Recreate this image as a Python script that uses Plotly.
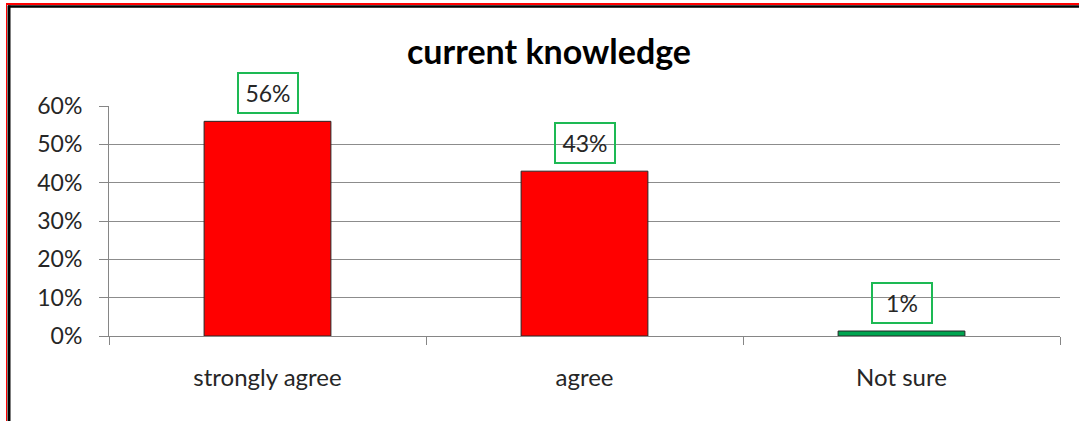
import plotly.graph_objects as go

categories = ["strongly agree", "agree", "Not sure"]
values = [0.56, 0.43, 0.013]
labels = ["56%", "43%", "1%"]
bar_colors = ["#FF0000", "#FF0000", "#00A550"]
title_text = "current knowledge"

W, H = 1079, 421
L, R, T, B = 109, 19, 106, 85
pw, ph = W - L - R, H - T - B

def px_x(px):
    return (px - L) / pw

def px_y(py):
    return (H - B - py) / ph

font_family = "Lato, Open Sans, sans-serif"
txt_color = "#262626"

fig = go.Figure()
fig.add_trace(go.Bar(
    x=categories, y=values, width=0.4,
    marker=dict(color=bar_colors, line=dict(color="#262626", width=1)),
    hoverinfo="skip",
))

for c, v, t in zip(categories, values, labels):
    fig.add_annotation(
        x=c, y=v, text=t, showarrow=False, yanchor="bottom", yshift=7,
        font=dict(family=font_family, size=23, color=txt_color),
        bordercolor="#1DB954", borderwidth=2, borderpad=1,
        width=56, height=36, bgcolor="rgba(255,255,255,0)",
    )

fig.update_layout(
    width=W, height=H,
    margin=dict(l=L, r=R, t=T, b=B, pad=0),
    paper_bgcolor="white", plot_bgcolor="white",
    showlegend=False,
    title=dict(text="<b>" + title_text + "</b>", x=549 / W, xanchor="center",
               y=1 - 52 / H, yanchor="middle",
               font=dict(family=font_family, size=34, color="black")),
    font=dict(family=font_family, color=txt_color),
)
fig.update_xaxes(
    type="category", tickson="boundaries", ticks="outside", ticklen=8,
    tickcolor="#868686", showline=True, linecolor="#868686", linewidth=1,
    showgrid=False, tickfont=dict(size=24, family=font_family, color=txt_color),
    ticklabelstandoff=20, range=[-0.5, 2.5],
)
fig.update_yaxes(
    range=[0, 0.6], dtick=0.1, tickformat=".0%", ticks="outside", ticklen=9,
    tickcolor="#868686", showline=True, linecolor="#868686", linewidth=1,
    showgrid=True, gridcolor="#8C8C8C", gridwidth=1, zeroline=False,
    tickfont=dict(size=23, family=font_family, color=txt_color),
    ticklabelstandoff=12,
)

# Frame around the chart area (as in the reference screenshot)
fig.add_shape(type="line", xref="paper", yref="paper",
              x0=px_x(6), x1=px_x(W), y0=px_y(4), y1=px_y(4),
              line=dict(color="#FF0000", width=2))
fig.add_shape(type="line", xref="paper", yref="paper",
              x0=px_x(8), x1=px_x(W), y0=px_y(6.5), y1=px_y(6.5),
              line=dict(color="#000000", width=2.5))
fig.add_shape(type="line", xref="paper", yref="paper",
              x0=px_x(6.5), x1=px_x(6.5), y0=px_y(4), y1=px_y(H),
              line=dict(color="#FF0000", width=1))
fig.add_shape(type="line", xref="paper", yref="paper",
              x0=px_x(9), x1=px_x(9), y0=px_y(5.5), y1=px_y(H),
              line=dict(color="#000000", width=3))

fig.write_html("out.html", config={"displayModeBar": False},
               post_script="document.body.style.margin='0px';document.body.style.overflow='hidden';")
